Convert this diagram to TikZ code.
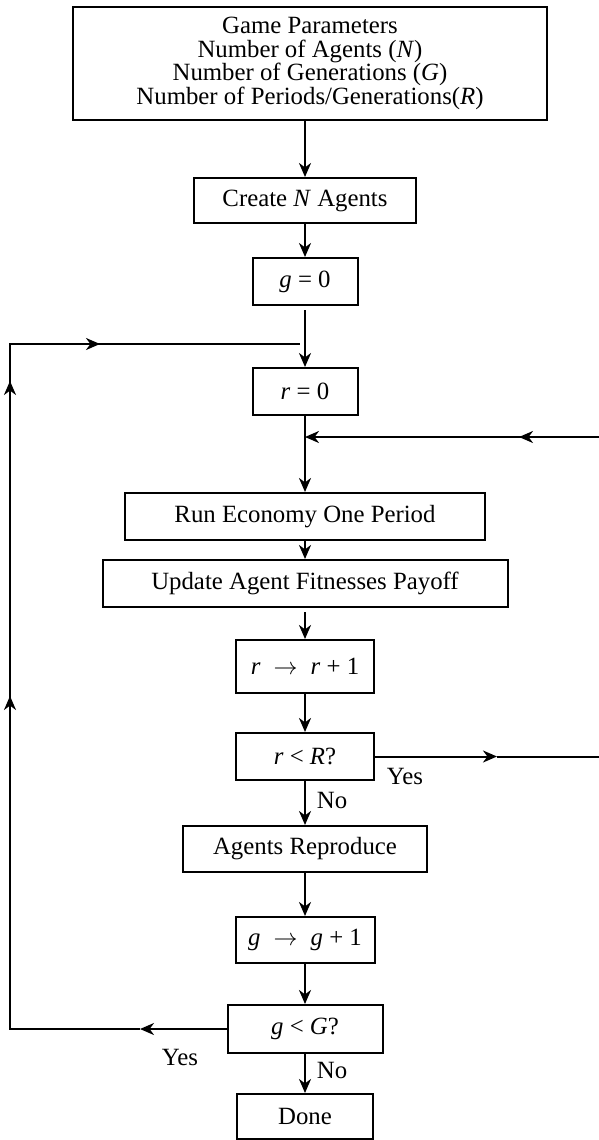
\documentclass[tikz,border=0pt]{standalone}
\usepackage{fontspec}
\setmainfont{Liberation Serif}
\usetikzlibrary{arrows.meta,positioning}

\begin{document}
\begin{tikzpicture}[->,>={Stealth[length=7pt,width=6pt,inset=2.2pt]},x=0.5pt,y=-0.5pt,line width=1pt,
    font=\fontsize{12.4}{11.7}\selectfont]

    \tikzstyle{block}=[draw,rectangle,inner sep=0pt,minimum height=23.5pt,align=center]
    \tikzstyle{lbl}=[inner sep=0pt]

    \useasboundingbox (0,0) rectangle (599,1140);

    % main column
    \node[block, minimum width=237pt, minimum height=56.5pt] (params) at (310,63.5)
        {Game Parameters\\ Number of Agents (\textit{N})\\ Number of Generations (\textit{G})\\ Number of Periods/Generations(\textit{R})};
    \node[block, minimum width=111pt, minimum height=22.5pt] (create) at (305,200.5) {Create \textit{N} Agents};
    \node[block, minimum width=52.5pt]   (g0)     [below of = create, node distance=40.5pt] {\textit{g} = 0};
    \node[block, minimum width=52.5pt]   (r0)     [below of = g0, node distance=55pt]       {\textit{r} = 0};
    \node[block, minimum width=180pt]    (run)    [below of = r0, node distance=62.5pt]     {Run Economy One Period};
    \node[block, minimum width=202.5pt]  (update) [below of = run, node distance=33.5pt]    {Update Agent Fitnesses Payoff};
    \node[block, minimum width=69pt, minimum height=26.5pt] (rr) [below of = update, node distance=41.5pt] {\textit{r}\; $\rightarrow$\; \textit{r} + 1};
    \node[block, minimum width=69pt]     (rR)     [below of = rr, node distance=45pt]       {\textit{r} < \textit{R}?};
    \node[block, minimum width=122pt, minimum height=23pt] (repro) [below of = rR, node distance=46.25pt] {Agents Reproduce};
    \node[block, minimum width=69.5pt, minimum height=23pt] (gg) [below of = repro, node distance=45.5pt] {\textit{g}\; $\rightarrow$\; \textit{g} + 1};
    \node[block, minimum width=77.5pt, minimum height=24pt] (gG) [below of = gg, node distance=44.5pt] {\textit{g} < \textit{G}?};
    \node[block, minimum width=68pt, minimum height=22.5pt] (done) [below of = gG, node distance=43.75pt] {Done};

    \node[lbl] (yesR) at (405,776)  {Yes};
    \node[lbl] (noR)  at (332,800)  {No};
    \node[lbl] (yesG) at (180,1057) {Yes};
    \node[lbl] (noG)  at (332,1070) {No};

    % loop corners
    \coordinate (midR)  at (497,756.5);
    \coordinate (farR)  at (620,756.5);
    \coordinate (topR)  at (620,437);
    \coordinate (backR) at (519,437);
    \coordinate (join)  at (r0 |- backR);
    \coordinate (midG)  at (140,1029);
    \coordinate (botL)  at (10,1029);
    \coordinate (upB)   at (10,696);
    \coordinate (upA)   at (10,381);
    \coordinate (topL)  at (10,344);
    \coordinate (inL)   at (100,344);
    \coordinate (endL)  at (300,344);

    \path (params.south -| create.north) edge (create)
          (create) edge (g0)
          (g0)     edge [shorten <=2pt] (r0)
          (r0)     edge (run)
          (run)    edge (update)
          (update) edge [shorten <=2pt] (rr)
          (rr)     edge (rR)
          (rR)     edge (repro)
          (repro)  edge (gg)
          (gg)     edge (gG)
          (gG)     edge (done)
    ;

    % r < R? loops back
    \draw (rR.east) -- (midR);
    \draw[-] (midR) -- (farR) -- (topR) -- (backR);
    \draw (topR) -- (backR);
    \draw (backR) -- (join);

    % g < G? loops back
    \draw (gG.west) -- (midG);
    \draw[-] (midG) -- (botL) -- (upB);
    \draw (botL) -- (upB);
    \draw[-] (upB) -- (upA);
    \draw (upB) -- (upA);
    \draw[-] (upA) -- (topL) -- (inL);
    \draw (topL) -- (inL);
    \draw[-] (inL) -- (endL);
\end{tikzpicture}
\end{document}
